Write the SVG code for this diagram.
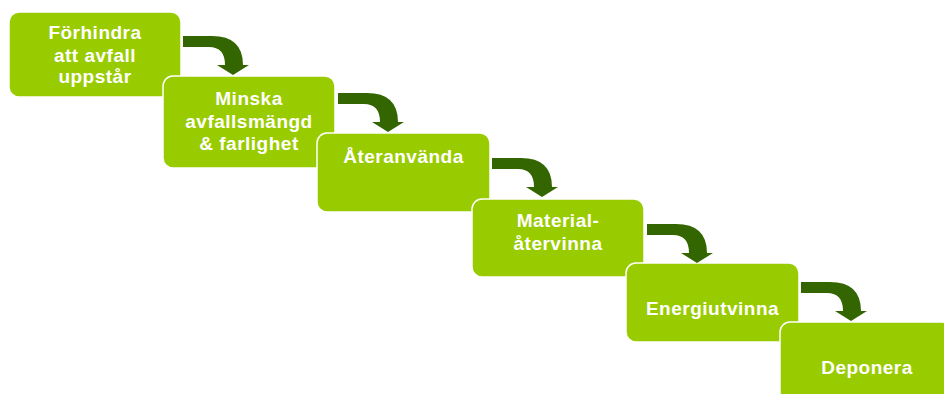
<svg xmlns="http://www.w3.org/2000/svg" xmlns:xlink="http://www.w3.org/1999/xlink" width="944" height="394" viewBox="0 0 944 394">
<style>
.box{fill:#99CC00;stroke:#FFFFFF;stroke-width:1.5}
.lbl{font-family:"Liberation Sans",Arial,sans-serif;font-weight:bold;font-size:19px;letter-spacing:0.5px;fill:#FFFFFF;text-anchor:middle}
.arr{fill:#336600}
</style>
<defs>
<path id="bend" d="M-50,-39 L-21,-39 Q10,-39 10,-10 L16,-10 L0,0 L-16,-10 L-8,-10 Q-8,-28 -24,-28 L-50,-28 Z"/>
</defs>
<rect width="944" height="394" fill="#FFFFFF"/>
<g id="nodes">
<g id="n1"><rect class="box" x="9" y="12" width="172" height="85" rx="10"/>
<text class="lbl" x="95" y="39">Förhindra</text><text class="lbl" x="95" y="61.5">att avfall</text><text class="lbl" x="95" y="83">uppstår</text></g>
<g id="n2"><rect class="box" x="163" y="76" width="172" height="92" rx="10"/>
<text class="lbl" x="249" y="105">Minska</text><text class="lbl" x="249" y="127.5">avfallsmängd</text><text class="lbl" x="249" y="149.5">&amp; farlighet</text></g>
<g id="n3"><rect class="box" x="317" y="133" width="173" height="79" rx="10"/>
<text class="lbl" x="403.5" y="162.5">Återanvända</text></g>
<g id="n4"><rect class="box" x="472" y="199" width="172" height="78" rx="10"/>
<text class="lbl" x="558" y="227">Material-</text><text class="lbl" x="558" y="250">återvinna</text></g>
<g id="n5"><rect class="box" x="626" y="263" width="173" height="79" rx="10"/>
<text class="lbl" x="712.5" y="315">Energiutvinna</text></g>
<g id="n6"><rect class="box" x="780" y="322" width="172" height="85" rx="10"/>
<text class="lbl" x="867" y="373.5">Deponera</text></g>
</g>
<g id="connectors">
<use class="arr" xlink:href="#bend" href="#bend" transform="translate(233,75)"/>
<use class="arr" xlink:href="#bend" href="#bend" transform="translate(388,132)"/>
<use class="arr" xlink:href="#bend" href="#bend" transform="translate(542,197)"/>
<use class="arr" xlink:href="#bend" href="#bend" transform="translate(697,263)"/>
<use class="arr" xlink:href="#bend" href="#bend" transform="translate(851,321)"/>
</g>
</svg>
